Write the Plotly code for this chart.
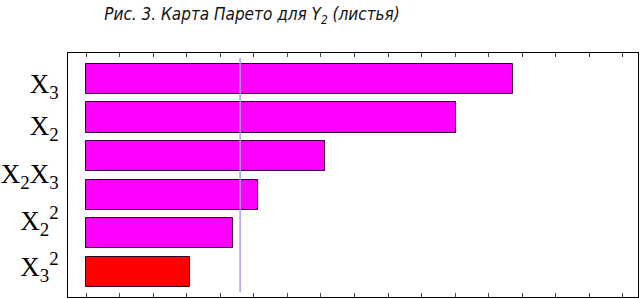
import plotly.graph_objects as go

# Data
factors = ["X3", "X2", "X2X3", "X2^2", "X?", "X3^2"]
effects = [12.73, 11.03, 7.12, 5.13, 4.38, 3.10]
bar_colors = ["#ff00ff", "#ff00ff", "#ff00ff", "#ff00ff", "#ff00ff", "#ff0000"]
critical_value = 4.59
tick_labels = ["X<sub>3</sub>", "X<sub>2</sub>", "X<sub>2</sub>X<sub>3</sub>",
               "X<sub>2</sub><sup>2</sup>", "X<sub>3</sub><sup>2</sup>"]
tick_positions = [0.12, 1.22, 2.45, 3.68, 4.87]
title_text = "Рис. 3. Карта Парето для Y<sub>2</sub> (листья)"

positions = list(range(len(effects)))

W, H = 640, 299

fig = go.Figure()
fig.add_trace(go.Bar(
    x=effects, y=positions, orientation="h",
    marker=dict(color=bar_colors, line=dict(color="#330033", width=1)),
    width=0.78, hoverinfo="x",
))
fig.add_shape(type="line", x0=critical_value, x1=critical_value, xref="x",
              y0=0.02, y1=0.98, yref="paper",
              line=dict(color="#9fa0f0", width=1.5))

fig.update_layout(
    width=W, height=H,
    margin=dict(l=68, r=2, t=53, b=2, autoexpand=False),
    paper_bgcolor="white", plot_bgcolor="white",
    showlegend=False,
    bargap=0,
    title=dict(text=title_text, x=252/W, xanchor="center", y=1-14/H, yanchor="middle",
               automargin=False,
               font=dict(family="DejaVu Sans Condensed, Liberation Sans Narrow, Liberation Sans", size=17,
                         color="#111111", style="italic")),
    xaxis=dict(range=[-0.54, 16.45], showgrid=False, zeroline=False, automargin=False,
               showline=True, linecolor="black", linewidth=1, mirror="ticks",
               ticks="inside", ticklen=4, tickcolor="#444444", dtick=1, tick0=0,
               showticklabels=False),
    yaxis=dict(range=[5.65, -0.67], showgrid=False, zeroline=False, automargin=False,
               showline=True, linecolor="black", linewidth=1, mirror=True,
               ticks="", tickvals=tick_positions, ticktext=tick_labels,
               tickfont=dict(family="Liberation Serif, Times New Roman, serif", size=27, color="black"),
               ticklabelstandoff=3),
)

fig.write_html("out.html", config={"displayModeBar": False},
               post_script="document.body.style.margin='0px';")
